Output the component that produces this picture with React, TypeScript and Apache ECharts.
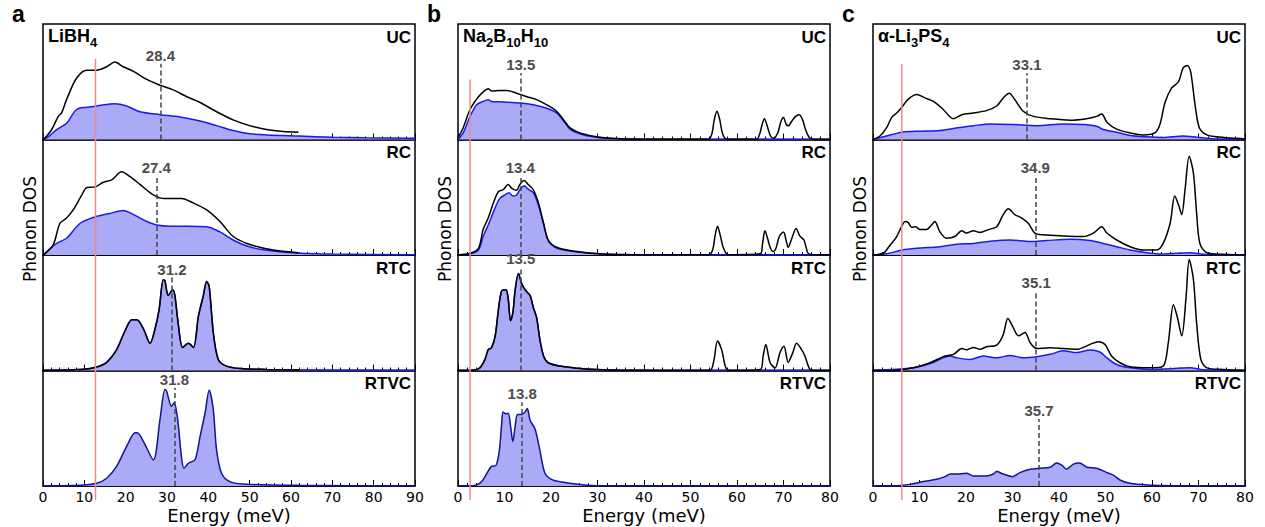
import React, { useEffect, useRef } from "react";
import * as echarts from "echarts";

// ---------------- DATA ----------------
// Panel a : LiBH4 (energy meV, normalised DOS)
const aUC_total = [[0,0],[0.5,0.014],[2,0.08],[3.7,0.2],[4.5,0.23],[5.7,0.345],[8.1,0.53],[10.6,0.6],[13,0.6],[15.4,0.63],[17.4,0.67],[19.4,0.63],[21.9,0.59],[25.1,0.52],[28.3,0.47],[31.5,0.43],[34.8,0.37],[38,0.32],[42,0.24],[46,0.17],[50,0.12],[54.1,0.086],[58.1,0.069],[61.8,0.063]];
const aUC_li = [[0,0],[1.5,0.03],[3.3,0.086],[5.7,0.14],[8.1,0.26],[10.6,0.28],[13,0.29],[17.4,0.31],[20.2,0.29],[23.5,0.24],[28.3,0.215],[33.1,0.195],[38,0.16],[42,0.12],[46,0.078],[50,0.05],[54,0.04],[62,0.03],[70,0.02],[78,0.015],[90,0.01]];
const aRC_total = [[0,0],[0.5,0.01],[2.5,0.09],[4.1,0.275],[5.7,0.32],[7.3,0.39],[9.4,0.52],[10.6,0.585],[12.6,0.59],[14.6,0.63],[16.6,0.65],[19,0.72],[21,0.68],[23.5,0.61],[26.7,0.52],[29.1,0.49],[30.7,0.49],[33.5,0.49],[36.4,0.45],[39.6,0.39],[42.8,0.29],[46,0.16],[49.3,0.1],[52.5,0.067],[56.5,0.038],[61.8,0.02]];
const aRC_li = [[0,0],[3.3,0.1],[5.7,0.145],[9,0.275],[12.6,0.33],[16.2,0.36],[19.4,0.385],[21.9,0.35],[25.1,0.29],[27.5,0.26],[30.7,0.25],[34.8,0.25],[39.6,0.245],[42.8,0.2],[46,0.13],[49.3,0.078],[52.5,0.05],[58,0.026],[62,0.015],[70,0.008],[90,0.003]];
const aRTC_total = [[0,0],[9.8,0.01],[13,0.03],[15.4,0.07],[17.8,0.18],[19.8,0.34],[21.5,0.44],[22.7,0.44],[24.3,0.36],[25.9,0.235],[27.1,0.36],[28.1,0.53],[29.1,0.785],[29.5,0.775],[30.3,0.65],[31.4,0.7],[31.9,0.65],[32.7,0.41],[33.8,0.2],[35.2,0.235],[36.4,0.2],[37.6,0.47],[38.8,0.65],[39.6,0.77],[40.2,0.73],[41.2,0.33],[42.4,0.096],[44.4,0.038],[47.7,0.017],[54,0.009],[62,0.005]];
const aRTC_li = [[0,0],[9.8,0.01],[13,0.03],[15.4,0.07],[17.8,0.18],[19.8,0.34],[21.5,0.44],[22.7,0.44],[24.3,0.36],[25.9,0.235],[27.1,0.36],[28.1,0.53],[29.1,0.785],[29.5,0.775],[30.3,0.65],[31.4,0.7],[31.9,0.65],[32.7,0.41],[33.8,0.2],[35.2,0.235],[36.4,0.2],[37.6,0.47],[38.8,0.65],[39.6,0.77],[40.2,0.73],[41.2,0.33],[42.4,0.096],[44.4,0.038],[47.7,0.017],[54,0.009],[62,0.005],[70,0.003],[90,0.001]];
const aRTVC_li = [[0,0],[9.8,0.008],[13,0.023],[15.4,0.067],[17.8,0.17],[20.6,0.37],[22.3,0.46],[22.8,0.46],[24.3,0.385],[26.7,0.226],[28.3,0.575],[29.5,0.835],[29.9,0.82],[31.1,0.69],[31.7,0.72],[32.5,0.6],[33.5,0.255],[34.1,0.154],[35.2,0.197],[36.8,0.23],[38,0.43],[39.2,0.63],[40.2,0.83],[41.2,0.66],[42,0.31],[43.2,0.11],[45.2,0.038],[49.2,0.015],[62,0.006],[90,0]];

// Panel b : Na2B10H10
const bUC_total = [[0,0.014],[1.1,0.1],[2.6,0.26],[4.4,0.37],[5.8,0.425],[6.5,0.44],[7.2,0.42],[9,0.425],[10.5,0.425],[12.6,0.4],[14.8,0.37],[16.9,0.345],[19.1,0.3],[21.2,0.245],[22.7,0.17],[24.1,0.1],[26.2,0.057],[29.1,0.029],[32,0.014],[36.3,0.005],[42,0.002],[53.8,0.002],[54.6,0.05],[55.1,0.17],[55.7,0.245],[56.3,0.17],[56.9,0.05],[57.8,0.002],[64.2,0.002],[64.9,0.05],[65.4,0.13],[65.9,0.18],[66.4,0.13],[67.2,0.03],[67.9,0.01],[68.8,0.06],[69.4,0.15],[70,0.19],[70.6,0.13],[71.1,0.12],[71.8,0.16],[72.6,0.2],[73.4,0.215],[74.1,0.17],[74.8,0.08],[75.6,0.015],[76.5,0.002],[80,0]];
const bUC_na = [[0,0],[1.1,0.057],[2.6,0.2],[4,0.3],[5.4,0.33],[6.5,0.345],[7.2,0.33],[9.7,0.325],[13.3,0.316],[16.2,0.3],[19.1,0.27],[21.2,0.23],[22.7,0.16],[24.1,0.09],[26.2,0.05],[29.1,0.023],[32,0.01],[36.3,0.004],[42,0.001],[50,0],[80,0]];
const bRC_total = [[0,0],[2.6,0.015],[4.4,0.058],[5.4,0.22],[6.5,0.32],[7.6,0.45],[8.7,0.55],[9.7,0.565],[10.8,0.61],[11.5,0.58],[12.6,0.56],[13.3,0.61],[14.2,0.645],[15.1,0.61],[16.2,0.565],[17.3,0.45],[18.4,0.275],[19.4,0.13],[21.2,0.067],[24.1,0.038],[27.7,0.02],[31.3,0.009],[36,0.004],[42,0.001],[54,0.002],[54.8,0.05],[55.3,0.17],[55.8,0.25],[56.4,0.17],[57.1,0.058],[58.1,0.002],[65,0.01],[65.5,0.1],[66,0.21],[66.6,0.14],[67.1,0.07],[67.7,0.03],[68.3,0.05],[69.1,0.16],[70,0.2],[70.6,0.12],[71,0.067],[71.8,0.145],[72.7,0.23],[73.5,0.165],[74.4,0.13],[74.9,0.06],[75.3,0.015],[76.4,0.002],[80,0]];
const bRC_na = [[0,0],[2.6,0.01],[4.4,0.043],[5.4,0.16],[6.5,0.26],[8,0.41],[9,0.49],[10.1,0.52],[11,0.54],[11.8,0.51],[12.6,0.52],[13.3,0.565],[14.2,0.6],[15.1,0.57],[16.2,0.54],[17.3,0.43],[18.4,0.27],[19.4,0.125],[21.2,0.06],[24.1,0.035],[27.7,0.018],[31.3,0.009],[36.3,0.003],[45,0],[80,0]];
const bRTC_total = [[0,0],[3.3,0.003],[4.7,0.023],[5.8,0.096],[6.5,0.18],[7.2,0.197],[8,0.3],[8.7,0.53],[9.4,0.69],[10.3,0.7],[10.8,0.62],[11.3,0.43],[11.8,0.5],[12.3,0.7],[13,0.84],[13.7,0.75],[14.6,0.69],[15.5,0.65],[16.2,0.545],[16.9,0.46],[17.6,0.27],[18.4,0.125],[19.4,0.067],[21.9,0.038],[25.5,0.02],[29.8,0.009],[34.8,0.003],[45,0.001],[54.2,0.003],[55,0.08],[55.8,0.255],[56.7,0.18],[57.6,0.023],[58.5,0],[65,0.009],[65.6,0.12],[66.2,0.226],[67.1,0.07],[68.2,0.023],[69.2,0.15],[70.1,0.21],[71,0.07],[72,0.155],[72.8,0.235],[73.9,0.18],[74.6,0.125],[75.6,0.015],[76.5,0],[80,0]];
const bRTC_na = [[0,0],[3.3,0.003],[4.7,0.023],[5.8,0.096],[6.5,0.18],[7.2,0.197],[8,0.3],[8.7,0.53],[9.4,0.69],[10.3,0.7],[10.8,0.62],[11.3,0.43],[11.8,0.5],[12.3,0.7],[13,0.84],[13.7,0.75],[14.6,0.69],[15.5,0.65],[16.2,0.545],[16.9,0.46],[17.6,0.27],[18.4,0.125],[19.4,0.067],[21.9,0.038],[25.5,0.02],[29.8,0.009],[34.8,0.003],[45,0],[80,0]];
const bRTVC_na = [[0,0],[2.6,0],[4,0.009],[5.1,0.038],[6.2,0.11],[7.2,0.17],[8.2,0.18],[8.9,0.31],[9.4,0.545],[9.7,0.64],[10.3,0.625],[10.8,0.63],[11.3,0.52],[11.8,0.385],[12.3,0.52],[12.8,0.62],[13.7,0.62],[14.4,0.64],[14.9,0.67],[15.5,0.57],[16.6,0.49],[17.6,0.31],[18.7,0.11],[20.1,0.058],[22.7,0.032],[26.2,0.012],[29.8,0.003],[35,0.001],[45,0],[80,0]];

// Panel c : alpha-Li3PS4
const cUC_total = [[0,0],[1.5,0.03],[2.9,0.1],[4,0.19],[5.1,0.23],[6.2,0.28],[7.6,0.35],[9.4,0.39],[11.2,0.36],[13,0.33],[15.1,0.26],[17.3,0.18],[19.1,0.215],[21.6,0.23],[24.4,0.25],[26.6,0.29],[28,0.36],[29.3,0.4],[30.5,0.345],[32.3,0.245],[34.5,0.2],[38.1,0.18],[42.4,0.167],[45.9,0.18],[48.1,0.2],[49.2,0.22],[50.3,0.15],[52.4,0.09],[55.3,0.057],[58.1,0.04],[60.6,0.057],[61.7,0.13],[62.8,0.32],[64.2,0.445],[65.7,0.5],[66.7,0.62],[67.6,0.64],[68.3,0.59],[69.3,0.29],[70.2,0.1],[71.8,0.04],[73.9,0.023],[76.8,0.012],[80,0.005]];
const cUC_li = [[0,0],[2.9,0.03],[6.2,0.063],[10.1,0.072],[14.4,0.078],[18,0.1],[21.6,0.12],[25.2,0.135],[30.2,0.13],[35.2,0.12],[40.9,0.135],[45.2,0.13],[48.1,0.115],[49.5,0.086],[52.4,0.063],[55.3,0.035],[58.9,0.023],[62.4,0.017],[66.7,0.03],[69.6,0.02],[73.3,0.005],[80,0]];
const cRC_total = [[0,0],[2.2,0.015],[3.7,0.087],[5.1,0.16],[6.2,0.25],[6.9,0.29],[7.6,0.28],[8.3,0.24],[9.2,0.245],[10.1,0.22],[11.5,0.22],[12.6,0.26],[13.3,0.29],[14.4,0.2],[15.8,0.145],[17.6,0.16],[19.1,0.21],[20.1,0.19],[21.6,0.21],[23,0.195],[24.8,0.22],[26.6,0.245],[28,0.35],[29.1,0.4],[30.5,0.35],[32,0.32],[33.4,0.275],[34.8,0.19],[36.6,0.175],[40.9,0.165],[45.2,0.16],[47.4,0.19],[49.2,0.245],[50.3,0.19],[52.4,0.13],[55.3,0.072],[58.1,0.043],[61,0.043],[62.4,0.1],[63.9,0.275],[64.9,0.51],[65.7,0.435],[66.4,0.35],[67.1,0.565],[68,0.855],[68.9,0.71],[69.6,0.36],[70.3,0.1],[71.8,0.02],[75.3,0.006],[80,0]];
const cRC_li = [[0,0],[2.9,0.01],[6.2,0.043],[9.4,0.058],[14.4,0.072],[18,0.093],[21.6,0.1],[25.2,0.12],[29.5,0.13],[33.8,0.116],[37.3,0.125],[42.4,0.136],[46.7,0.125],[49.5,0.1],[52.4,0.072],[55.3,0.043],[58.9,0.02],[62.4,0.009],[68.2,0.02],[71,0.006],[80,0]];
const cRTC_total = [[0,0],[5.1,0.003],[8.7,0.023],[12.3,0.067],[15.1,0.12],[17.3,0.14],[19.1,0.19],[20.1,0.18],[21.6,0.2],[23,0.183],[24.4,0.205],[26.6,0.22],[28,0.31],[29,0.45],[30,0.385],[31.3,0.3],[32.7,0.33],[33.8,0.24],[35.2,0.19],[38.1,0.197],[40.9,0.19],[43.8,0.183],[46.7,0.226],[48.5,0.25],[49.9,0.226],[51.3,0.125],[53.1,0.067],[55.3,0.032],[59.6,0.023],[62.4,0.038],[63.5,0.24],[64.6,0.57],[65.4,0.47],[66.4,0.3],[67.3,0.62],[68,0.96],[68.9,0.79],[69.6,0.41],[70.5,0.096],[71.8,0.023],[75.3,0.009],[80,0]];
const cRTC_li = [[0,0],[8.7,0.023],[12.3,0.06],[15.1,0.11],[16.6,0.125],[18,0.11],[20.9,0.096],[23.7,0.125],[26.6,0.11],[29.5,0.13],[32.3,0.11],[35.2,0.12],[38.1,0.14],[40.9,0.17],[43.8,0.155],[46.7,0.177],[48.8,0.16],[50.3,0.11],[52.4,0.052],[55.3,0.023],[60,0.009],[68.2,0.023],[71,0.006],[80,0]];
const cRTVC_li = [[0,0],[5.1,0.003],[8,0.014],[10.8,0.038],[13.7,0.058],[15.5,0.081],[16.6,0.104],[18,0.104],[20.1,0.11],[21.6,0.087],[24.4,0.087],[25.9,0.104],[26.6,0.125],[28,0.104],[30,0.081],[31.6,0.116],[33.8,0.145],[35.9,0.154],[38.1,0.162],[39.5,0.2],[40.6,0.18],[41.6,0.145],[43.1,0.19],[44.4,0.2],[46,0.162],[48.1,0.154],[50.3,0.116],[51.7,0.095],[53.1,0.052],[55.3,0.023],[58.9,0.009],[65,0.003],[80,0]];

// mean energies and heights of their dashed markers (row units)
const rowLabels = ["UC", "RC", "RTC", "RTVC"];
const aMeans = [28.4, 27.4, 31.2, 31.8];
const aMeanTops = [0.655, 0.68, 0.805, 0.85];
const bMeans = [13.5, 13.4, 13.5, 13.8];
const bMeanTops = [0.575, 0.68, 0.9, 0.725];
const cMeans = [33.1, 34.9, 35.1, 35.7];
const cMeanTops = [0.575, 0.68, 0.69, 0.58];
// red reference energies and their top (row-1 units)
const redEnergies = [12.7, 2.6, 6.2];
const redTops = [0.70, 0.52, 0.655];
const xMaxes = [90, 80, 80];
const panelLetters = ["a", "b", "c"];
const xTickStep = 10;

// ---------------- STYLE / LAYOUT ----------------
const LEFTS = [43, 458, 873];
const PW = 372;
const TOP = 24;
const RH = 115.5;
const BOLD = "'Liberation Sans', Arial, Helvetica, sans-serif";
const REG = "'DejaVu Sans', sans-serif";
const BLUE = "#1a1af0";
const DARKBLUE = "#12129a";
const FILL = "#aaaaf6";

const panels = [
  { totals: [aUC_total, aRC_total, aRTC_total, null], partials: [aUC_li, aRC_li, aRTC_li, aRTVC_li], means: aMeans, tops: aMeanTops,
    material: "{m|LiBH}{s|4}" },
  { totals: [bUC_total, bRC_total, bRTC_total, null], partials: [bUC_na, bRC_na, bRTC_na, bRTVC_na], means: bMeans, tops: bMeanTops,
    material: "{m|Na}{s|2}{m|B}{s|10}{m|H}{s|10}" },
  { totals: [cUC_total, cRC_total, cRTC_total, null], partials: [cUC_li, cRC_li, cRTC_li, cRTVC_li], means: cMeans, tops: cMeanTops,
    material: "{m|α-Li}{s|3}{m|PS}{s|4}" },
];

export default function App() {
  const ref = useRef<HTMLDivElement>(null);
  useEffect(() => {
    document.body.style.margin = "0";
    const chart = echarts.init(ref.current!, null, { renderer: "svg" });
    const grid: any[] = [];
    const xAxis: any[] = [];
    const yAxis: any[] = [];
    const series: any[] = [];
    panels.forEach((p, pi) => {
      for (let r = 0; r < 4; r++) {
        const g = pi * 4 + r;
        const last = r === 3;
        grid.push({ left: LEFTS[pi], width: PW, top: TOP + r * RH, height: RH, show: true, borderColor: "#000", borderWidth: 1.5, backgroundColor: "transparent" });
        xAxis.push({
          type: "value", gridIndex: g, min: 0, max: xMaxes[pi], interval: xTickStep,
          axisLine: { show: true, lineStyle: { color: "#000", width: 1.5 } },
          axisTick: { show: true, inside: true, length: 6, lineStyle: { color: "#000", width: 1 } },
          minorTick: { show: true, splitNumber: 5, length: 3, lineStyle: { color: "#000", width: 1 } },
          splitLine: { show: false },
          axisLabel: { show: last, margin: 4, fontSize: 14, fontFamily: REG, color: "#000" },
          name: last ? "Energy (meV)" : "",
          nameLocation: "middle", nameGap: 20,
          nameTextStyle: { fontSize: 18, fontFamily: REG, color: "#000" },
        });
        yAxis.push({ type: "value", gridIndex: g, min: 0, max: 1, show: false });
        const markLine = {
          silent: true, symbol: ["none", "none"], animation: false,
          lineStyle: { color: "#444", width: 1.5, type: [5, 3] },
          label: { show: true, position: "end", distance: 1, formatter: String(p.means[r]), fontSize: 15, fontWeight: "bold", fontFamily: BOLD, color: "#4d4d4d" },
          data: [[{ coord: [p.means[r], 0] }, { coord: [p.means[r], p.tops[r]] }]],
        };
        const total = p.totals[r];
        series.push({
          type: "line", xAxisIndex: g, yAxisIndex: g, data: p.partials[r], showSymbol: false, symbol: "none",
          smooth: 0.3, z: 2,
          lineStyle: { color: last ? DARKBLUE : BLUE, width: 1.5 },
          areaStyle: { color: FILL, opacity: 1 },
          markLine: total ? undefined : markLine,
        });
        if (total) {
          series.push({
            type: "line", xAxisIndex: g, yAxisIndex: g, data: total, showSymbol: false, symbol: "none",
            smooth: 0.3, z: 3, lineStyle: { color: "#000", width: 1.5 }, markLine,
          });
        }
      }
    });
    chart.setOption({ animation: false, grid, xAxis, yAxis, series });

    const graphic: any[] = [];
    panels.forEach((p, pi) => {
      const L = LEFTS[pi];
      graphic.push({ type: "text", x: L - 31, y: 14, style: { text: panelLetters[pi], fontSize: 23, fontWeight: "bold", fontFamily: BOLD, fill: "#000", align: "left", verticalAlign: "middle" } });
      graphic.push({ type: "text", x: L - 13, y: 229, rotation: Math.PI / 2, style: { text: "Phonon DOS", fontSize: 17, fontFamily: REG, fill: "#000", align: "center", verticalAlign: "middle" } });
      graphic.push({ type: "text", x: L + 5, y: 27, style: { text: p.material, fill: "#000", align: "left", verticalAlign: "top",
        rich: {
          m: { fontSize: 18, fontWeight: "bold", fontFamily: BOLD, lineHeight: 22, verticalAlign: "top" },
          s: { fontSize: 13, fontWeight: "bold", fontFamily: BOLD, lineHeight: 14, verticalAlign: "bottom" },
        } } });
      rowLabels.forEach((lab, r) => {
        graphic.push({ type: "text", x: L + PW - 4, y: TOP + r * RH + 13, style: { text: lab, fontSize: 17, fontWeight: "bold", fontFamily: BOLD, fill: "#000", align: "right", verticalAlign: "middle" } });
      });
      const top = chart.convertToPixel({ gridIndex: pi * 4 }, [redEnergies[pi], redTops[pi]]) as number[];
      const bot = chart.convertToPixel({ gridIndex: pi * 4 + 3 }, [redEnergies[pi], 0]) as number[];
      graphic.push({ type: "line", z: 20, shape: { x1: top[0], y1: top[1], x2: bot[0], y2: bot[1] + 14 }, style: { stroke: "#f08a8a", lineWidth: 1.5 } });
    });
    chart.setOption({ graphic });
    return () => chart.dispose();
  }, []);
  return <div ref={ref} style={{ width: 1265, height: 527 }} />;
}
